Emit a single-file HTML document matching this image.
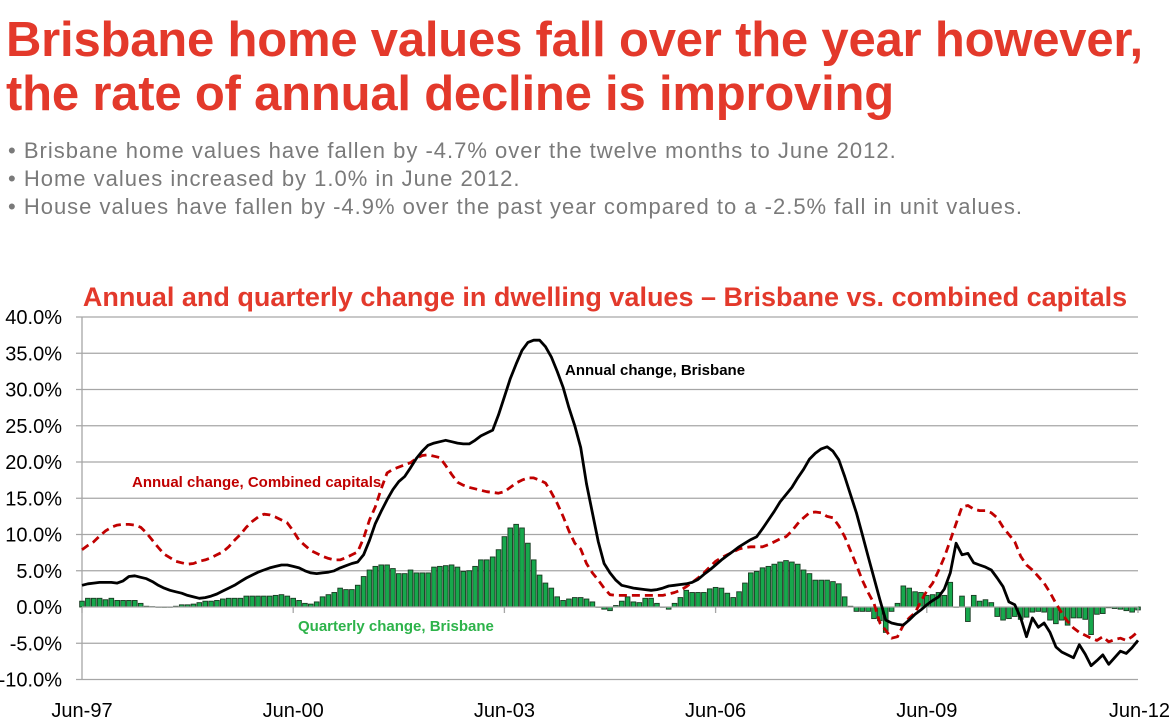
<!DOCTYPE html>
<html><head><meta charset="utf-8">
<style>
body{margin:0;background:#fff;width:1169px;height:723px;overflow:hidden;font-family:"Liberation Sans",Arial,sans-serif;}
#title{position:absolute;left:6px;top:13px;margin:0;color:#e3392b;font-size:49px;font-weight:bold;line-height:54px;letter-spacing:-0.2px;white-space:nowrap;}
#bullets{position:absolute;left:8px;top:137px;color:#7a7a7a;font-size:22px;line-height:28px;margin:0;padding:0;list-style:none;letter-spacing:1.0px;white-space:nowrap;}
svg{position:absolute;left:0;top:0;}
</style></head><body>
<h1 id="title">Brisbane home values fall over the year however,<br>the rate of annual decline is improving</h1>
<ul id="bullets">
<li>• Brisbane home values have fallen by -4.7% over the twelve months to June 2012.</li>
<li>• Home values increased by 1.0% in June 2012.</li>
<li>• House values have fallen by -4.9% over the past year compared to a -2.5% fall in unit values.</li>
</ul>
<svg id="chart" width="1169" height="723"></svg>
<script>
const yTicks=[40,35,30,25,20,15,10,5,0,-5,-10];
const xLabels=["Jun-97","Jun-00","Jun-03","Jun-06","Jun-09","Jun-12"];
const xLabelMonths=[0,36,72,108,144,180];
const quarterly=[0.8,1.2,1.2,1.2,1.0,1.2,0.9,0.9,0.9,0.9,0.5,0.1,0.05,0,-0.05,0,0.1,0.3,0.3,0.4,0.6,0.8,0.8,0.9,1.1,1.2,1.2,1.2,1.5,1.5,1.5,1.5,1.5,1.6,1.7,1.5,
1.2,0.9,0.5,0.4,0.7,1.4,1.7,2.0,2.6,2.4,2.4,3.0,4.2,5.1,5.6,5.8,5.8,5.3,4.6,4.6,5.1,4.7,4.7,4.7,5.5,5.6,5.7,5.8,5.5,4.9,5.0,5.6,6.5,6.5,6.9,7.9,9.7,10.9,11.4,10.9,8.8,6.5,4.4,3.3,2.6,1.4,0.9,1.1,1.3,
1.3,1.1,0.7,0,-0.3,-0.5,0.2,0.8,1.4,0.7,0.6,1.2,1.2,0.5,0,-0.3,0.5,1.3,2.3,2.0,2.0,2.0,2.5,2.7,2.6,1.9,1.3,
2.1,3.3,4.7,4.9,5.4,5.6,5.9,6.2,6.4,6.2,5.9,5.1,4.6,3.7,3.7,3.7,3.5,3.2,1.4,0.1,-0.6,-0.6,-0.6,
-1.6,-1.9,-3.5,-0.6,0.5,2.9,2.6,2.1,2.0,1.6,1.7,2.0,1.6,3.4,0,1.5,-2.0,1.6,0.8,1.0,0.6,-1.3,-1.8,-1.6,-1.3,-1.7,-1.4,-0.7,-0.6,-0.7,-1.8,-2.3,-1.8,-2.5,-1.5,-1.5,-1.7,-3.8,-1.0,-0.9,-0.1,-0.2,-0.3,-0.5,-0.7,-0.4];
const annualBris=[3.0,3.2,3.3,3.4,3.4,3.4,3.3,3.6,4.2,4.3,
4.1,3.9,3.5,3.0,2.6,2.3,2.1,1.9,1.6,1.4,
1.2,1.3,1.5,1.8,2.2,2.6,3.0,3.5,4.0,4.4,
4.8,5.1,5.4,5.6,5.8,5.8,5.6,5.4,5.0,4.7,
4.6,4.7,4.8,5.0,5.4,5.7,6.0,6.2,7.2,9.2,
11.5,13.2,14.8,16.2,17.3,18.0,19.2,20.5,21.5,22.3,
22.6,22.8,23.0,22.8,22.6,22.5,22.5,23.0,23.6,24.0,
24.4,26.5,29.0,31.5,33.5,35.4,36.5,36.8,36.8,35.9,
34.5,32.5,30.3,27.5,25.0,22.0,17.0,13.0,9.0,6.0,
4.7,3.7,3.0,2.8,2.6,2.5,2.4,2.3,2.4,2.6,
2.9,3.0,3.1,3.2,3.4,3.8,4.5,5.1,5.8,6.5,
7.1,7.7,8.3,8.8,9.3,9.7,10.8,12.0,13.2,14.5,
15.5,16.5,17.8,19.0,20.4,21.2,21.8,22.1,21.5,20.3,
18.0,15.5,13.0,10.0,7.0,4.0,1.0,-1.8,-2.2,-2.4,
-2.5,-1.8,-1.0,-0.4,0.3,0.9,1.4,2.5,4.7,8.8,
7.2,7.4,6.1,5.8,5.5,5.1,4.0,2.8,0.7,0.3,
-1.5,-4.1,-1.5,-2.8,-2.2,-3.5,-5.5,-6.2,-6.6,-7.0,
-5.2,-6.5,-8.1,-7.4,-6.6,-7.9,-7.0,-6.1,-6.4,-5.6,-4.6];
const annualCap=[7.9,8.5,9.0,9.8,10.5,11.0,11.3,11.4,11.4,11.3,
11.0,10.2,9.2,8.2,7.3,6.8,6.3,6.1,5.9,6.0,
6.3,6.5,6.8,7.2,7.6,8.3,9.2,10.0,11.0,11.8,
12.4,12.8,12.7,12.4,12.0,11.6,10.5,9.2,8.5,7.8,
7.4,7.0,6.7,6.5,6.5,6.8,7.2,7.6,9.5,12.0,
13.8,16.3,18.5,19.0,19.3,19.6,19.9,20.5,20.9,21.0,
20.8,20.6,19.5,18.3,17.2,16.8,16.5,16.3,16.1,15.9,
15.8,15.7,15.9,16.5,17.1,17.5,17.8,17.8,17.5,17.1,
15.8,14.3,12.5,10.5,8.8,8.0,6.0,4.7,3.7,2.6,
1.7,1.6,1.6,1.6,1.6,1.6,1.6,1.6,1.6,1.6,
1.8,2.0,2.3,2.8,3.4,4.0,4.7,5.5,6.3,6.8,
7.2,7.6,8.0,8.2,8.3,8.3,8.3,8.6,9.0,9.4,
9.7,10.5,11.5,12.3,13.0,13.1,13.0,12.5,12.3,11.2,
9.7,7.8,5.8,3.7,2.0,0.5,-2.2,-3.2,-4.3,-4.1,
-2.5,-1.5,-0.8,0.8,2.2,3.3,5.0,6.9,9.2,11.5,
13.8,14.0,13.5,13.3,13.3,13.0,12.3,11.0,10.0,9.0,
7.0,5.8,5.1,4.2,3.3,2.0,0.5,-0.8,-2.0,-2.9,
-3.5,-3.9,-4.3,-4.6,-4.1,-4.8,-4.5,-4.3,-4.6,-4.1,-3.4];

const NS="http://www.w3.org/2000/svg";
const svg=document.getElementById('chart');
const X0=82,X1=1138,Y0=607,PPU=7.25;
const n=annualBris.length;
const xs=i=>X0+(X1-X0)*i/(n-1);
const ys=v=>Y0-v*PPU;
function mk(tag,attrs){const e=document.createElementNS(NS,tag);for(const k in attrs)e.setAttribute(k,attrs[k]);svg.appendChild(e);return e;}

const ct=mk('text',{x:605,y:306,'text-anchor':'middle','font-size':'27','font-weight':'bold',fill:'#e3392b'});
ct.textContent='Annual and quarterly change in dwelling values – Brisbane vs. combined capitals';



yTicks.forEach(t=>{
  if(t!==0){const g=mk('line',{x1:X0-6,x2:X1,y1:ys(t),y2:ys(t),stroke:'#a6a6a6','stroke-width':1.3});
  
  }
  const l=mk('text',{x:62,y:ys(t)+7,'text-anchor':'end','font-size':'20',fill:'#000'});
  l.textContent=t.toFixed(1)+'%';
  
  
});
const ya=mk('line',{x1:X0,x2:X0,y1:ys(40),y2:ys(-10),stroke:'#a6a6a6','stroke-width':1.3});



const bw=(X1-X0)/(n-1);
quarterly.forEach((v,i)=>{
  const y=Math.min(ys(v),Y0),h=Math.abs(ys(v)-Y0);
  const r=mk('rect',{x:xs(i)-bw/2+0.6,y:y,width:bw-1.2,height:Math.max(h,0.3),fill:'#16a84c',stroke:'#1a3a22','stroke-width':0.9});
  
  
});
const xa=mk('line',{x1:X0,x2:X1,y1:Y0,y2:Y0,stroke:'#a6a6a6','stroke-width':1.3});


for(let i=0;i<n;i+=36){const t=mk('line',{x1:xs(i),x2:xs(i),y1:Y0,y2:Y0+6,stroke:'#a6a6a6','stroke-width':1.3});

}

function line(arr,attrs,name){
  const p=mk('polyline',Object.assign({points:arr.map((v,i)=>xs(i).toFixed(1)+','+ys(v).toFixed(1)).join(' '),fill:'none','stroke-linejoin':'round'},attrs));
  
  
}
line(annualCap,{stroke:'#c00000','stroke-width':2.8,'stroke-dasharray':'8,5'},'line-combined-capitals');
line(annualBris,{stroke:'#000','stroke-width':2.8},'line-brisbane');

xLabels.forEach((s,i)=>{
  const last=i===xLabels.length-1;
  const t=mk('text',{x:last?1170:xs(xLabelMonths[i]),y:717,'text-anchor':last?'end':'middle','font-size':'20',fill:'#000'});
  t.textContent=s;
  
  
});

const a1=mk('text',{x:565,y:375,'font-size':'15','font-weight':'bold',fill:'#000'});
a1.textContent='Annual change, Brisbane';


const a2=mk('text',{x:132,y:487,'font-size':'15','font-weight':'bold',fill:'#c00000'});
a2.textContent='Annual change, Combined capitals';


const a3=mk('text',{x:298,y:631,'font-size':'15','font-weight':'bold',fill:'#2db34a'});
a3.textContent='Quarterly change, Brisbane';


</script>
</body></html>
